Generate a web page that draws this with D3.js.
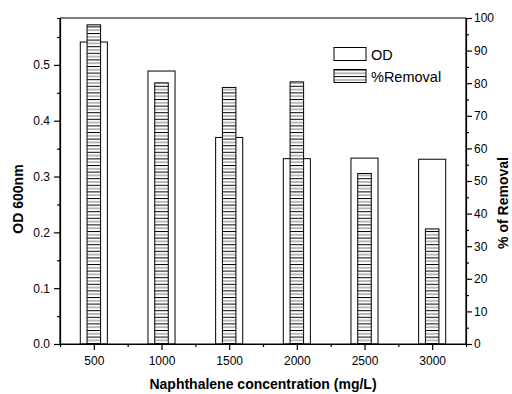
<!DOCTYPE html>
<html>
<head>
<meta charset="utf-8">
<script src="https://cdn.jsdelivr.net/npm/d3@7"></script>
<style>
  body { margin: 0; background: #fff; }
  svg { font-family: Arial, "Liberation Sans", sans-serif; }
</style>
</head>
<body>
<svg id="chart" width="512" height="394"></svg>
<script>
// data
var concentrations = [500, 1000, 1500, 2000, 2500, 3000];
var odValues = [0.541, 0.489, 0.370, 0.332, 0.333, 0.331];
var removalValues = [97.9, 80.1, 78.7, 80.4, 52.3, 35.3];
var odTicks = [0.0, 0.1, 0.2, 0.3, 0.4, 0.5];
var removalTicks = [0, 10, 20, 30, 40, 50, 60, 70, 80, 90, 100];
var xTicks = [500, 1000, 1500, 2000, 2500, 3000];

var svg = d3.select('#chart');
var mLeft = 60, mRight = 466, mTop = 18, mBottom = 344;

var x = d3.scaleLinear().domain([250, 3250]).range([mLeft, mRight]);
var yOD = d3.scaleLinear().domain([0, 0.584]).range([mBottom, mTop]);
var yRem = d3.scaleLinear().domain([0, 100]).range([mBottom, mTop]);

// hatch pattern for removal bars
var defs = svg.append('defs');
var pat = defs.append('pattern')
    .attr('id', 'hatch')
    .attr('patternUnits', 'userSpaceOnUse')
    .attr('width', 8)
    .attr('height', 6.6);
pat.append('rect').attr('width', 8).attr('height', 6.6).attr('fill', '#fff');
pat.append('line').attr('x1', 0).attr('x2', 8).attr('y1', 0.5).attr('y2', 0.5)
    .attr('stroke', '#000').attr('stroke-width', 1);
pat.append('line').attr('x1', 0).attr('x2', 8).attr('y1', 3.8).attr('y2', 3.8)
    .attr('stroke', '#777').attr('stroke-width', 1);

// OD bars (open)
svg.append('g').selectAll('rect')
    .data(concentrations)
    .enter()
    .append('rect')
    .attr('x', function(d) { return x(d - 100); })
    .attr('width', function(d) { return x(d + 100) - x(d - 100); })
    .attr('y', function(d, i) { return yOD(odValues[i]); })
    .attr('height', function(d, i) { return mBottom - yOD(odValues[i]); })
    .attr('fill', '#fff')
    .attr('stroke', '#000')
    .attr('stroke-width', 1);

// removal bars (hatched)
svg.append('g').selectAll('rect')
    .data(concentrations)
    .enter()
    .append('rect')
    .attr('x', function(d) { return x(d - 50); })
    .attr('width', function(d) { return x(d + 50) - x(d - 50); })
    .attr('y', function(d, i) { return yRem(removalValues[i]); })
    .attr('height', function(d, i) { return mBottom - yRem(removalValues[i]); })
    .attr('fill', 'url(#hatch)')
    .attr('stroke', '#000')
    .attr('stroke-width', 1);

// frame top line
svg.append('line')
    .attr('x1', mLeft).attr('x2', mRight)
    .attr('y1', mTop).attr('y2', mTop)
    .attr('stroke', '#000').attr('stroke-width', 1.2);

function styleAxis(g) {
  g.selectAll('path, line').attr('stroke', '#000').attr('stroke-width', 1.2);
  g.selectAll('text').attr('fill', '#000').style('font-size', '12px');
}

// minor ticks
svg.append('g')
    .attr('transform', 'translate(' + mLeft + ',0)')
    .call(d3.axisLeft(yOD).tickValues(d3.range(0.05, 0.58, 0.1)).tickSize(3).tickFormat(''))
    .call(styleAxis);
svg.append('g')
    .attr('transform', 'translate(' + mRight + ',0)')
    .call(d3.axisRight(yRem).tickValues(d3.range(5, 100, 10)).tickSize(3).tickFormat(''))
    .call(styleAxis);
svg.append('g')
    .attr('transform', 'translate(0,' + mBottom + ')')
    .call(d3.axisBottom(x).tickValues([750, 1250, 1750, 2250, 2750]).tickSize(3).tickFormat(''))
    .call(styleAxis);

// major axes
var gl = svg.append('g')
    .attr('transform', 'translate(' + mLeft + ',0)')
    .call(d3.axisLeft(yOD).tickValues(odTicks).tickSize(6).tickPadding(4).tickFormat(d3.format('.1f')))
    .call(styleAxis);
gl.select('.domain').attr('d', 'M0,' + mBottom + 'V' + mTop);

var gr = svg.append('g')
    .attr('transform', 'translate(' + mRight + ',0)')
    .call(d3.axisRight(yRem).tickValues(removalTicks).tickSize(6).tickPadding(2))
    .call(styleAxis);
gr.select('.domain').attr('d', 'M0,' + mBottom + 'V' + mTop);

var gb = svg.append('g')
    .attr('transform', 'translate(0,' + mBottom + ')')
    .call(d3.axisBottom(x).tickValues(xTicks).tickSize(6).tickPadding(6).tickFormat(d3.format('d')))
    .call(styleAxis);
gb.select('.domain').attr('d', 'M' + mLeft + ',0H' + mRight);

// axis titles
svg.append('text')
    .attr('transform', 'translate(23,' + ((mTop + mBottom) / 2 + 18) + ') rotate(-90)')
    .attr('text-anchor', 'middle')
    .style('font-size', '14px').style('font-weight', 'bold')
    .text('OD 600nm');
svg.append('text')
    .attr('transform', 'translate(508,' + ((mTop + mBottom) / 2 + 22) + ') rotate(-90)')
    .attr('text-anchor', 'middle')
    .style('font-size', '14px').style('font-weight', 'bold')
    .text('% of Removal');
svg.append('text')
    .attr('x', 263).attr('y', 389)
    .attr('text-anchor', 'middle')
    .style('font-size', '14px').style('font-weight', 'bold')
    .text('Naphthalene concentration (mg/L)');

// legend
var legend = [
  { name: 'OD', fill: '#fff' },
  { name: '%Removal', fill: 'url(#hatch)' }
];
var lg = svg.append('g').selectAll('g')
    .data(legend)
    .enter()
    .append('g')
    .attr('transform', function(d, i) { return 'translate(334,' + (47.5 + i * 22) + ')'; });
lg.append('rect')
    .attr('width', 32).attr('height', 13)
    .attr('fill', function(d) { return d.fill; })
    .attr('stroke', '#000').attr('stroke-width', 1);
lg.append('text')
    .attr('x', 37).attr('y', 12)
    .style('font-size', '14.5px')
    .text(function(d) { return d.name; });
</script>
</body>
</html>
